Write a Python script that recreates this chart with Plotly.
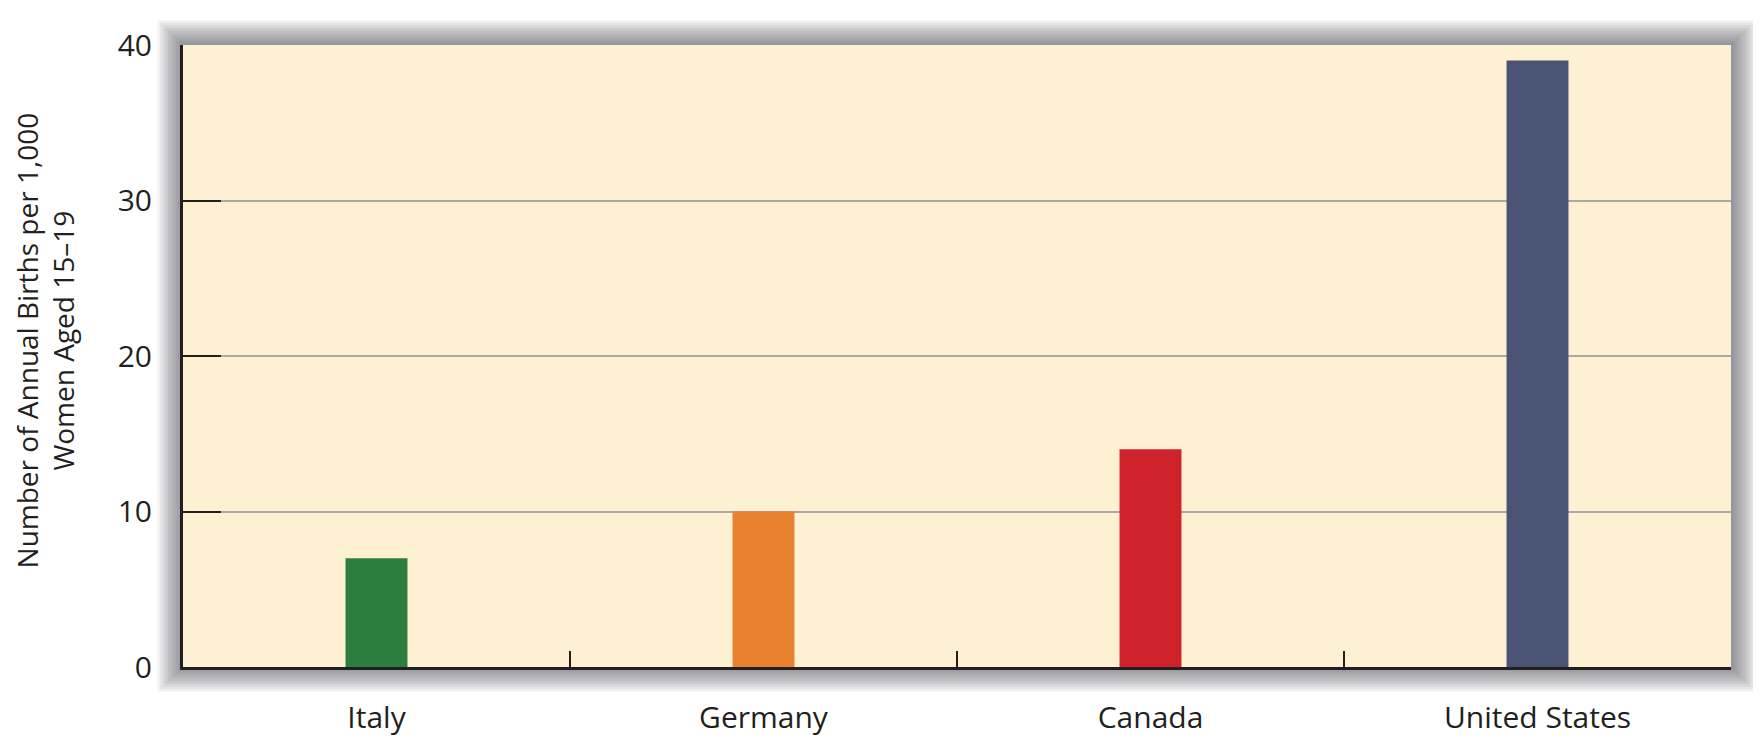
import plotly.graph_objects as go

# Teen birth rates (births per 1,000 women aged 15-19)
countries = ["Italy", "Germany", "Canada", "United States"]
births = [7, 10, 14, 39]
bar_colors = ["#2D7E3E", "#E8822F", "#D0222A", "#495373"]
y_ticks = [0, 10, 20, 30, 40]

W, H = 1761, 741
M = dict(l=175, r=38, t=37, b=64)
plot_w = W - M["l"] - M["r"]
plot_h = H - M["t"] - M["b"]
BG = "#FEF0D2"

fig = go.Figure()
fig.add_trace(go.Bar(x=countries, y=births, marker=dict(color=bar_colors, line=dict(width=0)),
                     width=0.16, showlegend=False))

# soft drop shadow around the plot area, then the cream panel on top of it
shapes = []
for i in range(10):
    px = 2 + i * 2.6
    shapes.append(dict(type="rect", xref="paper", yref="paper", layer="below",
                       x0=-px / plot_w, x1=1 + px / plot_w,
                       y0=-px / plot_h, y1=1 + px / plot_h,
                       line=dict(width=0), fillcolor="rgba(60,60,70,0.07)"))
shapes.append(dict(type="rect", xref="paper", yref="paper", layer="below",
                   x0=0, x1=1, y0=0, y1=1, line=dict(width=0), fillcolor=BG))

fig.update_layout(
    width=W, height=H, margin=M,
    paper_bgcolor="white", plot_bgcolor=BG,
    font=dict(family="Open Sans", size=30, color="#231F20"),
    bargap=0.84, shapes=shapes,
    annotations=[dict(text="Number of Annual Births per 1,000<br>Women Aged 15–19",
                      xref="paper", yref="paper", x=(37 - M["l"]) / plot_w, y=0.525,
                      xanchor="center", yanchor="middle", textangle=-90, showarrow=False,
                      font=dict(size=28, color="#231F20"))],
)
fig.update_xaxes(showline=True, linecolor="#231F20", linewidth=3, mirror=False,
                 ticks="inside", tickson="boundaries", ticklen=16, tickwidth=2, tickcolor="#231F20",
                 showgrid=False, ticklabelstandoff=22)
fig.update_yaxes(range=[0, 40], tickvals=y_ticks, showline=True, linecolor="#231F20", linewidth=3,
                 ticks="inside", ticklen=38, tickwidth=2, tickcolor="#231F20",
                 showgrid=True, gridcolor="#A9A9A9", gridwidth=2, zeroline=False,
                 ticklabelstandoff=22)

fig.write_html("out.html")
